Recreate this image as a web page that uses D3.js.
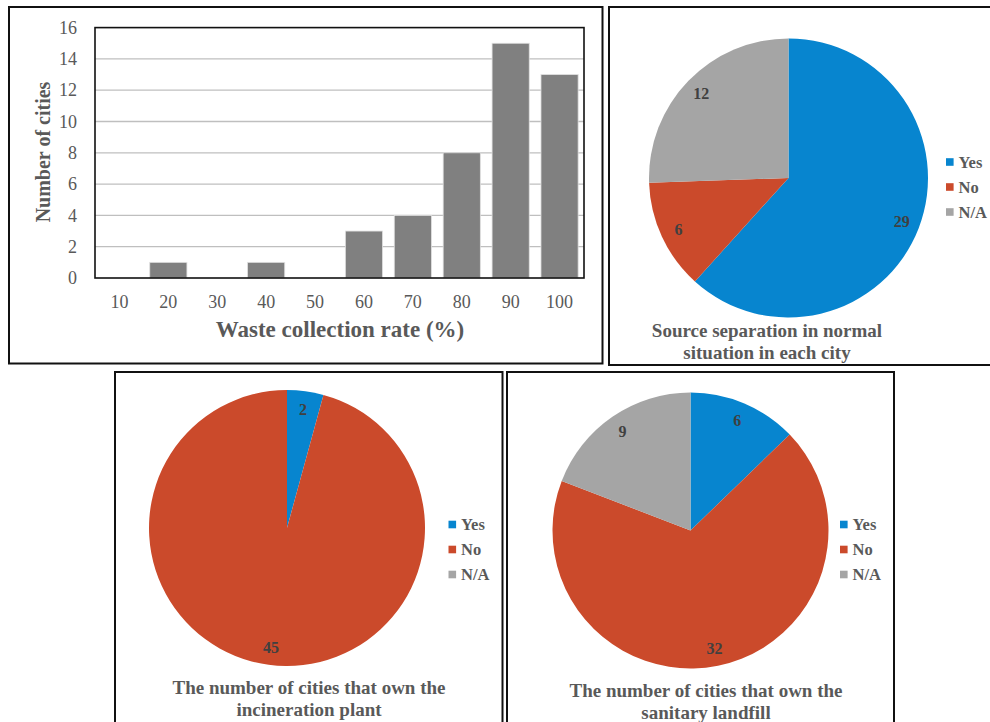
<!DOCTYPE html>
<html>
<head>
<meta charset="utf-8">
<script src="https://cdn.jsdelivr.net/npm/d3@7/dist/d3.min.js"></script>
<style>
  html, body { margin: 0; padding: 0; background: #fff; }
  svg { display: block; }
  svg text { font-family: "Liberation Serif", "DejaVu Serif", serif !important; }
</style>
</head>
<body>
<svg id="chart" width="990" height="722"></svg>
<script>
// ---- Data ----
const rateCategories = ["10", "20", "30", "40", "50", "60", "70", "80", "90", "100"];
const cityCounts = [0, 1, 0, 1, 0, 3, 4, 8, 15, 13];
const yTicks = [0, 2, 4, 6, 8, 10, 12, 14, 16];

const pieCategories = ["Yes", "No", "N/A"];
const sourceSeparation = [29, 6, 12];
const incinerationPlant = [2, 45, 0];
const sanitaryLandfill = [6, 32, 9];

const pieTitles = [
  ["Source separation in normal", "situation in each city"],
  ["The number of cities that own the", "incineration plant"],
  ["The number of cities that own the", "sanitary landfill"]
];

const colors = ["#0785cf", "#cb4a2b", "#a5a5a5"];
const FONT = "'Liberation Serif', 'DejaVu Serif', serif";

const svg = d3.select("#chart").attr("font-family", FONT);

// ---- Panel frames ----
const frames = [
  {x: 9, y: 7, w: 593.5, h: 356.5},
  {x: 609, y: 7, w: 400, h: 358},
  {x: 115, y: 372, w: 387.5, h: 380},
  {x: 507, y: 372, w: 387, h: 380}
];
svg.selectAll("rect.frame").data(frames).enter().append("rect")
  .attr("class", "frame")
  .attr("x", d => d.x).attr("y", d => d.y)
  .attr("width", d => d.w).attr("height", d => d.h)
  .attr("fill", "none").attr("stroke", "#111").attr("stroke-width", 2);

// ---- Bar chart ----
const plot = {left: 95, right: 584, top: 27.6, bottom: 278};
const x = d3.scaleBand().domain(rateCategories)
  .range([plot.left, plot.right]).paddingInner(0.24).paddingOuter(0.12);
const y = d3.scaleLinear().domain([0, 16]).range([plot.bottom, plot.top]);

const bar = svg.append("g");
bar.append("g").selectAll("line").data(yTicks.filter(t => t > 0 && t < 16)).enter().append("line")
  .attr("x1", plot.left).attr("x2", plot.right)
  .attr("y1", d => y(d)).attr("y2", d => y(d))
  .attr("stroke", "#bfbfbf").attr("stroke-width", 1.3);

bar.append("g").selectAll("rect").data(cityCounts).enter().append("rect")
  .attr("x", (d, i) => x(rateCategories[i]))
  .attr("width", x.bandwidth())
  .attr("y", d => y(d))
  .attr("height", d => plot.bottom - y(d))
  .attr("fill", "#808080")
  .attr("stroke", "#e0e0e0").attr("stroke-width", 0.8);

bar.append("rect")
  .attr("x", plot.left).attr("y", plot.top)
  .attr("width", plot.right - plot.left).attr("height", plot.bottom - plot.top)
  .attr("fill", "none").attr("stroke", "#111").attr("stroke-width", 1.6);

const yAxis = d3.axisLeft(y).tickValues(yTicks).tickSize(0).tickPadding(0);
const gy = bar.append("g").attr("transform", `translate(77,0)`).call(yAxis);
gy.attr("font-family", FONT);
gy.select(".domain").remove();
gy.selectAll("text").attr("font-size", 18).attr("fill", "#595959");

const xAxis = d3.axisBottom(x).tickSize(0).tickPadding(0);
const gx = bar.append("g").attr("transform", `translate(0,${plot.bottom})`).call(xAxis);
gx.attr("font-family", FONT);
gx.select(".domain").remove();
gx.selectAll("text").attr("font-size", 18).attr("fill", "#595959")
  .attr("dy", null).attr("y", 30);

bar.append("text")
  .attr("x", 340).attr("y", 337)
  .attr("text-anchor", "middle").attr("font-size", 23).attr("font-weight", "bold")
  .attr("fill", "#595959").text("Waste collection rate (%)");

bar.append("text")
  .attr("transform", "translate(50,152) rotate(-90)")
  .attr("text-anchor", "middle").attr("font-size", 20).attr("font-weight", "bold")
  .attr("fill", "#595959").text("Number of cities");

// ---- Pies ----
const pies = [
  {values: sourceSeparation, cx: 788.5, cy: 178, r: 139.5,
   legendX: 946, legendY: 162, titleX: 767, titleY: [336.5, 358.5], title: pieTitles[0]},
  {values: incinerationPlant, cx: 287, cy: 528, r: 138,
   legendX: 448.5, legendY: 524.5, titleX: 309, titleY: [693.5, 715.5], title: pieTitles[1]},
  {values: sanitaryLandfill, cx: 690.5, cy: 530.5, r: 138,
   legendX: 840, legendY: 524.5, titleX: 706, titleY: [696.5, 718.5], title: pieTitles[2]}
];

const pieGen = d3.pie().sort(null).value(d => d.value);

pies.forEach(p => {
  const data = pieCategories.map((c, i) => ({cat: c, value: p.values[i], color: colors[i]}));
  const arcs = pieGen(data);
  const arc = d3.arc().innerRadius(0).outerRadius(p.r);
  const labelArc = d3.arc().innerRadius(p.r * 0.87).outerRadius(p.r * 0.87);
  const g = svg.append("g").attr("transform", `translate(${p.cx},${p.cy})`);
  g.selectAll("path").data(arcs).enter().append("path")
    .attr("d", arc).attr("fill", d => d.data.color);
  g.selectAll("text").data(arcs.filter(d => d.data.value > 0)).enter().append("text")
    .attr("transform", d => `translate(${labelArc.centroid(d)})`)
    .attr("dy", "0.35em").attr("text-anchor", "middle")
    .attr("font-size", 16).attr("font-weight", "bold").attr("fill", "#404040")
    .text(d => d.data.value);

  const lg = svg.append("g");
  pieCategories.forEach((c, i) => {
    lg.append("rect").attr("x", p.legendX).attr("y", p.legendY + i * 25 - 3.8)
      .attr("width", 7.6).attr("height", 7.6).attr("fill", colors[i]);
    lg.append("text").attr("x", p.legendX + 12.5).attr("y", p.legendY + i * 25)
      .attr("dy", "0.35em").attr("font-size", 16.5).attr("font-weight", "bold")
      .attr("fill", "#595959").text(c);
  });

  p.title.forEach((line, i) => {
    svg.append("text").attr("x", p.titleX).attr("y", p.titleY[i])
      .attr("text-anchor", "middle").attr("font-size", 19).attr("font-weight", "bold")
      .attr("fill", "#595959").text(line);
  });
});
</script>
</body>
</html>
